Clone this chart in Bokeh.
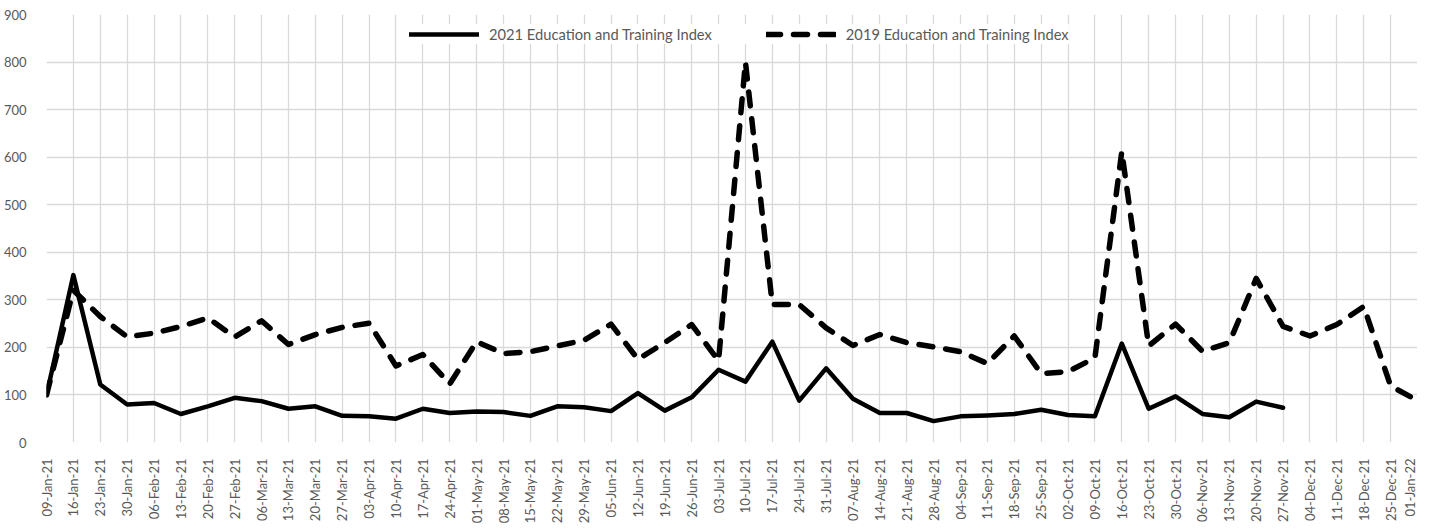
from math import pi

from bokeh.embed import file_html
from bokeh.models import FixedTicker, Legend, LegendItem, Range1d
from bokeh.plotting import figure
from bokeh.resources import INLINE

# Week-ending dates shown on the category axis
weeks = [
    "09-Jan-21", "16-Jan-21", "23-Jan-21", "30-Jan-21", "06-Feb-21", "13-Feb-21",
    "20-Feb-21", "27-Feb-21", "06-Mar-21", "13-Mar-21", "20-Mar-21", "27-Mar-21",
    "03-Apr-21", "10-Apr-21", "17-Apr-21", "24-Apr-21", "01-May-21", "08-May-21",
    "15-May-21", "22-May-21", "29-May-21", "05-Jun-21", "12-Jun-21", "19-Jun-21",
    "26-Jun-21", "03-Jul-21", "10-Jul-21", "17-Jul-21", "24-Jul-21", "31-Jul-21",
    "07-Aug-21", "14-Aug-21", "21-Aug-21", "28-Aug-21", "04-Sep-21", "11-Sep-21",
    "18-Sep-21", "25-Sep-21", "02-Oct-21", "09-Oct-21", "16-Oct-21", "23-Oct-21",
    "30-Oct-21", "06-Nov-21", "13-Nov-21", "20-Nov-21", "27-Nov-21", "04-Dec-21",
    "11-Dec-21", "18-Dec-21", "25-Dec-21", "01-Jan-22",
]

# 2021 index (data available up to 27-Nov-21)
index_2021 = [
    100, 352, 122, 80, 83, 60, 76, 94, 87, 71, 76, 56,
    55, 50, 71, 62, 65, 64, 56, 76, 74, 66, 104, 67,
    95, 153, 128, 212, 88, 156, 92, 62, 62, 45, 55, 57,
    60, 69, 58, 55, 208, 71, 97, 60, 53, 86, 73,
]

# 2019 index for the same weeks
index_2019 = [
    100, 320, 265, 222, 230, 244, 262, 222, 256, 206, 227, 242,
    251, 161, 185, 123, 212, 187, 191, 203, 215, 249, 175, 210,
    248, 172, 800, 290, 290, 241, 204, 227, 210, 201, 191, 166,
    224, 145, 149, 178, 612, 203, 249, 192, 210, 345, 244, 224,
    248, 286, 119, 88,
]

y_ticks = list(range(0, 1000, 100))

FONT = "Lato"
TEXT_COLOR = "#595959"
GRID_COLOR = "#d9d9d9"

positions = list(range(len(weeks)))

p = figure(
    width=1417,
    height=529,
    output_backend="svg",
    toolbar_location=None,
    x_range=Range1d(0, len(weeks) - 1),
    y_range=Range1d(0, 900),
    min_border_left=45,
    min_border_right=0,
    min_border_top=14,
    min_border_bottom=87,
)
p.outline_line_color = None
p.background_fill_color = "white"
p.border_fill_color = "white"

# Axes
p.xaxis.ticker = FixedTicker(ticks=positions)
p.xaxis.major_label_overrides = {i: w for i, w in enumerate(weeks)}
p.xaxis.major_label_orientation = pi / 2
p.yaxis.ticker = FixedTicker(ticks=y_ticks)
for ax in (p.xaxis, p.yaxis):
    ax.axis_line_color = None
    ax.major_tick_line_color = None
    ax.minor_tick_line_color = None
    ax.major_label_text_font = FONT
    ax.major_label_text_font_size = "13px"
    ax.major_label_text_color = TEXT_COLOR
p.xaxis.major_label_standoff = 10
p.yaxis.major_label_standoff = 14

# Grid
p.xgrid.ticker = FixedTicker(ticks=positions)
p.ygrid.ticker = FixedTicker(ticks=y_ticks)
for g in (p.xgrid, p.ygrid):
    g.grid_line_color = GRID_COLOR
    g.grid_line_width = 1.3

# Series
r2021 = p.line(
    positions[: len(index_2021)], index_2021,
    line_color="black", line_width=4.5, line_join="round", line_cap="round",
)
r2019 = p.line(
    positions, index_2019,
    line_color="black", line_width=5.5, line_dash="14 13",
    line_join="round", line_cap="round",
)

legend = Legend(
    items=[
        LegendItem(label="2021 Education and Training Index", renderers=[r2021]),
        LegendItem(label="2019 Education and Training Index", renderers=[r2019]),
    ],
    orientation="horizontal",
    location=(363, 398),
    glyph_width=70,
    glyph_height=20,
    label_standoff=10,
    spacing=54,
    padding=0,
    margin=0,
    border_line_color=None,
    background_fill_color="white",
    background_fill_alpha=1.0,
    label_text_font=FONT,
    label_text_font_size="14.7px",
    label_text_color=TEXT_COLOR,
)
p.add_layout(legend)

open("out.html", "w").write(file_html(p, INLINE))
